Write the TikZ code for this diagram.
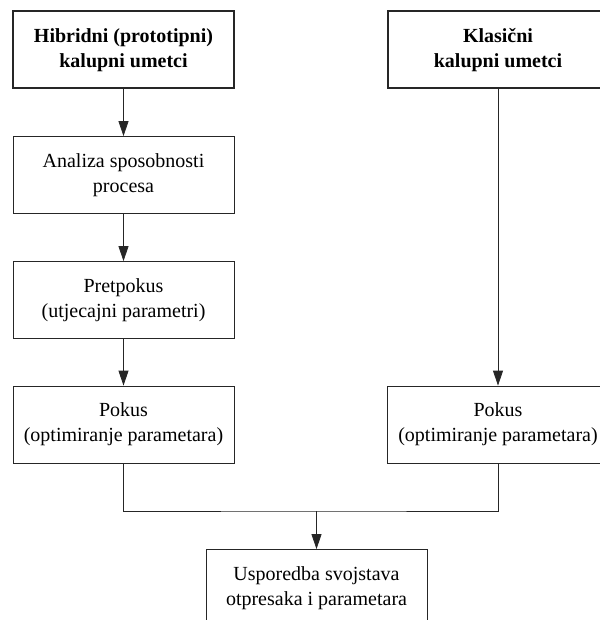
\documentclass[tikz,border=0pt]{standalone}
\usepackage{fontspec}
\setmainfont{Liberation Serif}
\usepackage{tikz}
\usetikzlibrary{arrows.meta, positioning}

\tikzset{
  box/.style={draw=black!85, line width=0.8pt, fill=white, align=center,
    minimum width=221pt, minimum height=77pt, inner sep=2pt,
    font=\fontsize{20}{25}\selectfont},
  headbox/.style={box, line width=2pt, font=\fontsize{20}{25}\selectfont\bfseries},
  flow/.style={draw=black!85, line width=0.8pt},
  arrow/.style={flow, -{Triangle[length=15pt, width=10pt]}}
}

\begin{document}
\begin{tikzpicture}[x=1pt, y=-1pt]
  \useasboundingbox (0,0) rectangle (599,620);

  % ulazni umetci
  \node[headbox] (hibridni) at (123.5,50) {Hibridni (prototipni)\\kalupni umetci};
  \node[headbox] (klasicni) at (498,50) {Klasični\\kalupni umetci};

  % lijeva grana
  \node[box] (analiza) at (123.5,175) {Analiza sposobnosti\\procesa};
  \node[box] (pretpokus) at (123.5,300) {Pretpokus\\(utjecajni parametri)};
  \node[box] (pokusA) at (123.5,424.5) {Pokus\\(optimiranje parametara)};

  % desna grana
  \node[box] (pokusB) at (498,424.5) {Pokus\\(optimiranje parametara)};

  % usporedba
  \coordinate (spoj) at (316.5,511);
  \node[box] (usporedba) at (316.5,588) {Usporedba svojstava\\otpresaka i parametara};

  \draw[arrow] (hibridni) -- (analiza);
  \draw[arrow] (analiza) -- (pretpokus);
  \draw[arrow] (pretpokus) -- (pokusA);
  \draw[arrow] (klasicni) -- (pokusB);
  \draw[flow] (pokusA.south) |- (spoj) -| (pokusB.south);
  \draw[arrow] (spoj) -- (usporedba.north);
\end{tikzpicture}
\end{document}
